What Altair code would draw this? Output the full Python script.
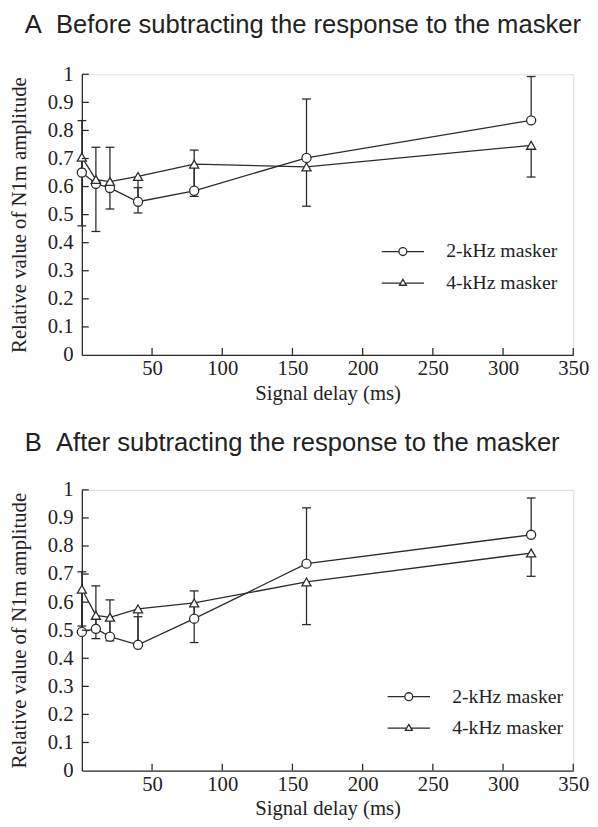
import altair as alt
import pandas as pd

# ---- data ----
delays = [0, 10, 20, 40, 80, 160, 320]
series_names = ["2-kHz masker", "4-kHz masker"]

# Panel A: before subtracting the response to the masker
a_2k = [0.650, 0.610, 0.595, 0.546, 0.585, 0.702, 0.836]
a_2k_err_up = [0.185, 0.130, 0.145, 0.050, 0.145, 0.210, 0.156]
a_4k = [0.705, 0.625, 0.618, 0.636, 0.680, 0.670, 0.747]
a_4k_err_down = [0.245, 0.185, 0.098, 0.130, 0.115, 0.140, 0.113]

# Panel B: after subtracting the response to the masker
b_2k = [0.494, 0.505, 0.477, 0.448, 0.541, 0.737, 0.840]
b_2k_err_up = [0.214, 0.153, 0.131, 0.100, 0.099, 0.199, 0.131]
b_4k = [0.646, 0.553, 0.546, 0.576, 0.597, 0.672, 0.775]
b_4k_err_down = [0.131, 0.083, 0.084, 0.120, 0.141, 0.152, 0.083]

x_ticks = [50, 100, 150, 200, 250, 300, 350]
y_ticks = [0.1, 0.2, 0.3, 0.4, 0.5, 0.6, 0.7, 0.8, 0.9, 1.0]
y_labels = [0, 0.1, 0.2, 0.3, 0.4, 0.5, 0.6, 0.7, 0.8, 0.9, 1.0]

titles = ["A\u00a0\u00a0Before subtracting the response to the masker",
          "B\u00a0\u00a0After subtracting the response to the masker"]

INK = "#2b2b2b"
SERIF = "Liberation Serif"
SANS = "Liberation Sans"

# legend symbols: a line with the marker in its middle
LEG_CIRCLE = ("M-2.15,0L-0.4,0M0.4,0L2.15,0"
              "M0.4,0A0.4,0.4,0,1,1,-0.4,0A0.4,0.4,0,1,1,0.4,0Z")
LEG_TRI = "M-2.15,0L-0.22,0M0.22,0L2.15,0M0,-0.38L0.35,0.22L-0.35,0.22Z"

W, H = 499, 285

AXIS_COMMON = dict(grid=False, ticks=False, tickSize=0, labelFontSize=21,
                   titleFontSize=21, labelFont=SERIF, titleFont=SERIF,
                   titleFontWeight="normal", labelColor="#222",
                   titleColor="#222", domainColor=INK, domainWidth=1.3,
                   labelFlush=False, labelOverlap=False)


def panel(title, v2, e2, v4, e4, leg_x, leg_y, title_offset):
    n = len(delays)
    df = pd.DataFrame({
        "delay": delays * 2,
        "series": [series_names[0]] * n + [series_names[1]] * n,
        "value": v2 + v4,
        "end": [v + e for v, e in zip(v2, e2)] + [v - e for v, e in zip(v4, e4)],
    })
    xs = alt.Scale(domain=[0, 350], nice=False, zero=False)
    ys = alt.Scale(domain=[0, 1], nice=False, zero=False)
    x_axis = alt.Axis(values=x_ticks, title="Signal delay (ms)",
                      labelPadding=3, titlePadding=4, **AXIS_COMMON)
    y_axis = alt.Axis(values=y_labels, format=".1~f",
                      title="Relative value of N1m amplitude",
                      labelPadding=9, titlePadding=18, **AXIS_COMMON)
    x = alt.X("delay:Q", scale=xs, axis=x_axis)
    y = alt.Y("value:Q", scale=ys, axis=y_axis)

    base = alt.Chart(df)
    lines = base.mark_line(color=INK, strokeWidth=1.3).encode(
        x=x, y=y, detail="series:N")
    bars = base.mark_rule(color=INK, strokeWidth=1.3).encode(
        x=x, y=y, y2="end:Q")
    caps = base.mark_tick(orient="horizontal", size=9, thickness=1.3,
                          color=INK, opacity=1).encode(
        x=x, y=alt.Y("end:Q", scale=ys, axis=y_axis))
    pts = base.mark_point(filled=True, fill="white", stroke=INK,
                          strokeWidth=1.3, size=85, opacity=1).encode(
        x=x, y=y,
        shape=alt.Shape("series:N", legend=None,
                        scale=alt.Scale(domain=series_names,
                                        range=["circle", "triangle-up"])))
    leg = base.transform_filter("false").mark_point(
        filled=False, color=INK, strokeWidth=1.3, opacity=1).encode(
        shape=alt.Shape("series:N",
                        scale=alt.Scale(domain=series_names,
                                        range=[LEG_CIRCLE, LEG_TRI]),
                        legend=alt.Legend(
                            title=None, orient="none", legendX=leg_x,
                            legendY=leg_y, rowPadding=11, padding=0,
                            symbolSize=400, symbolStrokeWidth=1.3,
                            symbolStrokeColor=INK, symbolOpacity=1,
                            labelFont=SERIF, labelFontSize=20,
                            labelColor="#222", labelOffset=33,
                            labelLimit=300)))
    xt = alt.Chart(pd.DataFrame({"t": x_ticks})).mark_tick(
        orient="vertical", size=7, thickness=1.3, color=INK, yOffset=-3.5,
        opacity=1).encode(x=alt.X("t:Q", scale=xs, axis=x_axis),
                          y=alt.YDatum(0, scale=ys, axis=y_axis))
    yt = alt.Chart(pd.DataFrame({"t": y_ticks})).mark_tick(
        orient="horizontal", size=7, thickness=1.3, color=INK, xOffset=3.5,
        opacity=1).encode(y=alt.Y("t:Q", scale=ys, axis=y_axis),
                          x=alt.XDatum(0, scale=xs, axis=x_axis))

    return alt.layer(lines, bars, caps, pts, leg, xt, yt).resolve_scale(
        shape="independent").properties(
        width=W, height=H,
        title=alt.TitleParams(title, anchor="start", frame="group", dx=-58,
                              font=SANS, fontSize=26, fontWeight="normal",
                              color="#222", offset=title_offset))


chart = alt.vconcat(
    panel(titles[0], a_2k, a_2k_err_up, a_4k, a_4k_err_down, 315, 169, 26),
    panel(titles[1], b_2k, b_2k_err_up, b_4k, b_4k_err_down, 321, 199, 23),
    spacing=26,
).properties(
    padding={"top": -3, "left": 0, "right": 0, "bottom": 0}
).configure_view(stroke=None).configure_axis(
    labelOverlap=False).configure(background="white")

chart.save("out.html", embed_options={"renderer": "svg", "actions": False})
